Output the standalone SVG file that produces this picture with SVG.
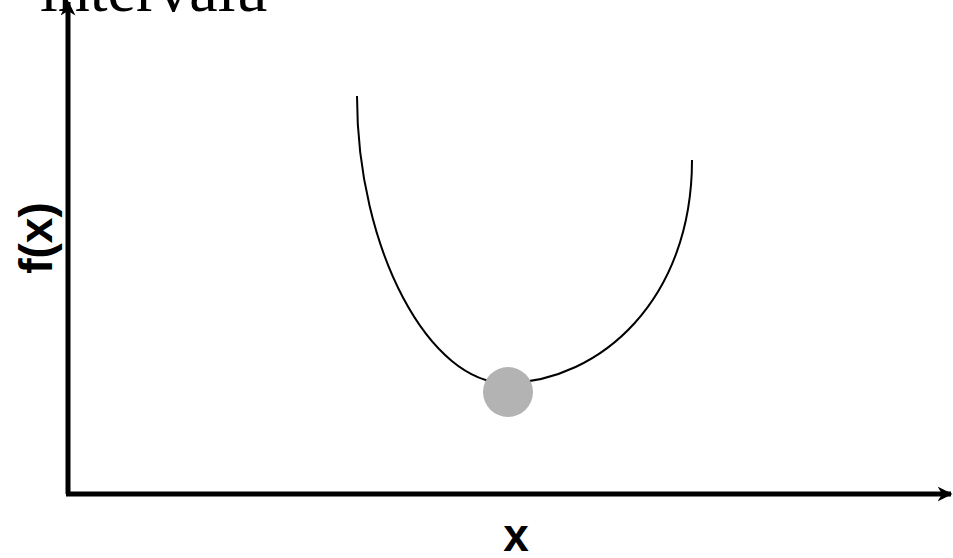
<svg xmlns="http://www.w3.org/2000/svg" width="953" height="558" viewBox="0 0 953 558">
<defs>
<marker id="ah" viewBox="0 0 10 10" refX="9" refY="5" markerWidth="3" markerHeight="3" orient="auto" markerUnits="strokeWidth">
<path d="M0,0 L10,5 L0,10 L3,5 Z" fill="#000"/>
</marker>
<style>
.axis{stroke:#000;stroke-width:5;fill:none}
.lbl{font-family:"Liberation Sans",Arial,sans-serif;font-weight:bold;font-size:46px;fill:#000}
</style>
</defs>
<rect width="953" height="558" fill="#fff"/>
<text x="40" y="11" font-family="'Liberation Serif','Times New Roman',serif" font-size="64" fill="#000">intervalu</text>
<g id="connectors">
<line class="axis" x1="68" y1="494" x2="68" y2="2" marker-end="url(#ah)"/>
<line class="axis" x1="66" y1="494" x2="951" y2="494" marker-end="url(#ah)"/>
</g>
<g id="curve">
<path d="M357,96 C357,250 430,385 508,383 C600,381 692,300 692,160" fill="none" stroke="#000" stroke-width="2"/>
</g>
<g id="point">
<circle cx="508" cy="392" r="25" fill="#b3b3b3"/>
</g>
<g id="ylabel">
<text class="lbl" text-anchor="middle" transform="translate(52,238) rotate(-90)">f(x)</text>
</g>
<g id="xlabel">
<text class="lbl" x="516" y="551" text-anchor="middle">x</text>
</g>
</svg>
